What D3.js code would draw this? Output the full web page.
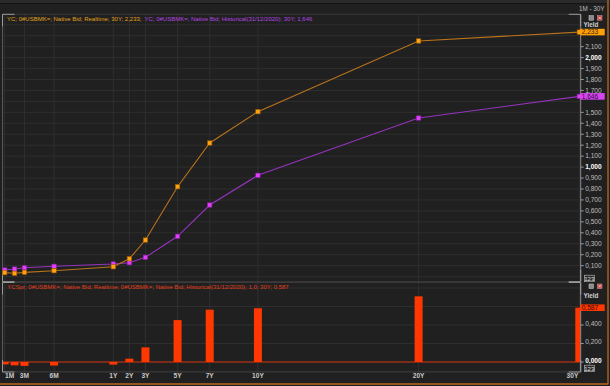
<!DOCTYPE html>
<html>
<head>
<meta charset="utf-8">
<script src="https://cdn.jsdelivr.net/npm/d3@7"></script>
<style>
html,body{margin:0;padding:0;background:#202020;}
svg{display:block;font-family:"Liberation Sans",Arial,sans-serif;}
</style>
</head>
<body>
<svg id="c" width="610" height="386"></svg>
<script>
// ---- data ----
const tenors = ["1M","2M","3M","6M","1Y","2Y","3Y","5Y","7Y","10Y","20Y","30Y"];
const tenorMonths = [1,2,3,6,12,24,36,60,84,120,240,360];
const labeledTenors = ["1M","3M","6M","1Y","2Y","3Y","5Y","7Y","10Y","20Y","30Y"];
const realtime = [0.036,0.030,0.039,0.054,0.090,0.163,0.334,0.821,1.220,1.506,2.152,2.233];
const historical = [0.060,0.069,0.081,0.094,0.115,0.127,0.176,0.368,0.654,0.925,1.448,1.646];
const spread = [-0.026,-0.036,-0.042,-0.038,-0.028,0.036,0.158,0.453,0.566,0.581,0.710,0.587];
const topTicks = [0.1,0.2,0.3,0.4,0.5,0.6,0.7,0.8,0.9,1.0,1.1,1.2,1.3,1.4,1.5,1.7,1.8,1.9,2.0,2.1];
const topGrid = d3.range(0,24).map(i=>i/10);
const botTicks = [0,0.2,0.4];
const botGrid = [-0.1,0,0.2,0.4,0.6,0.8];
const legendTop1 = "YC; 0#USBMK=; Native Bid; Realtime; 30Y; 2,233;";
const legendTop2 = "YC; 0#USBMK=; Native Bid; Historical(31/12/2020); 30Y; 1,646";
const legendBot = "YCSpr; 0#USBMK=; Native Bid; Realtime; 0#USBMK=; Native Bid; Historical(31/12/2020); 1,0; 30Y; 0,587";

const fmt = v => d3.format(".3f")(v).replace(".", ",");
const fmtTick = v => d3.format(",.3f")(v).replace(".", ",");

// ---- layout ----
const L = 2.5, R = 580.7;
const T1 = 14.3, B1 = 281.7;
const T2 = 282.5, B2 = 372;

const svg = d3.select("#c");
const x = d3.scaleLinear().domain([1,12,360]).range([4.7,113.3,579.3]);
const yT = d3.scaleLinear().domain([0,2.1]).range([276.6,46.65]);
const yB = d3.scaleLinear().domain([0,0.4]).range([362,325]);
const mIdx = t => tenorMonths[tenors.indexOf(t)];

// background
svg.append("rect").attr("width",610).attr("height",386).attr("fill","#202020");
svg.append("rect").attr("x",0).attr("y",0).attr("width",610).attr("height",3).attr("fill","#2a2a2a");
svg.append("line").attr("x1",0).attr("x2",606).attr("y1",3.5).attr("y2",3.5).attr("stroke","#141414");

const defs = svg.append("defs");
defs.append("clipPath").attr("id","cp1").append("rect").attr("x",L).attr("y",T1).attr("width",R-L).attr("height",B1-T1);
defs.append("clipPath").attr("id","cp2").append("rect").attr("x",L).attr("y",T2).attr("width",R-L).attr("height",B2-T2);

// ---- grids ----
const g1 = svg.append("g").attr("clip-path","url(#cp1)");
g1.selectAll(".hg").data(topGrid).join("line")
  .attr("x1",L).attr("x2",R).attr("y1",d=>yT(d)).attr("y2",d=>yT(d))
  .attr("stroke","#2e2e2e").attr("stroke-width",1);
g1.selectAll(".vg").data(labeledTenors).join("line")
  .attr("x1",d=>x(mIdx(d))).attr("x2",d=>x(mIdx(d))).attr("y1",T1).attr("y2",B1)
  .attr("stroke","#2e2e2e").attr("stroke-width",1);

const g2 = svg.append("g").attr("clip-path","url(#cp2)");
g2.selectAll(".hg").data(botGrid).join("line")
  .attr("x1",L).attr("x2",R).attr("y1",d=>yB(d)).attr("y2",d=>yB(d))
  .attr("stroke","#2e2e2e");
g2.selectAll(".vg").data(labeledTenors).join("line")
  .attr("x1",d=>x(mIdx(d))).attr("x2",d=>x(mIdx(d))).attr("y1",T2).attr("y2",B2)
  .attr("stroke","#303030");

// frames
function frame(t,b){
  svg.append("line").attr("x1",L).attr("x2",L).attr("y1",t).attr("y2",b).attr("stroke","#5a5a5a");
  svg.append("line").attr("x1",R).attr("x2",R).attr("y1",t).attr("y2",b).attr("stroke","#8c8c8c");
  svg.append("line").attr("x1",L).attr("x2",R).attr("y1",t).attr("y2",t).attr("stroke","#3a3a3a");
  svg.append("line").attr("x1",L).attr("x2",R).attr("y1",b).attr("y2",b).attr("stroke","#3a3a3a");
  [[L,t,1,1],[R,t,-1,1],[L,b,1,-1],[R,b,-1,-1]].forEach(([cx,cy,dx,dy])=>{
    svg.append("path").attr("d",`M${cx+dx*12},${cy}H${cx}V${cy+dy*12}`).attr("fill","none").attr("stroke","#9a9a9a");
  });
}
frame(T1,B1);
frame(T2,B2);

// ---- lines & markers ----
const lineGen = arr => d3.line().x((d,i)=>x(tenorMonths[i])).y(d=>yT(d))(arr);
g1.append("path").attr("d",lineGen(historical)).attr("fill","none").attr("stroke","#9433bd").attr("stroke-width",1.1);
g1.append("path").attr("d",lineGen(realtime)).attr("fill","none").attr("stroke","#b8731c").attr("stroke-width",1.1);

function markers(arr, fill, stroke){
  svg.append("g").selectAll("rect").data(arr).join("rect")
    .attr("x",(d,i)=>x(tenorMonths[i])-2.2).attr("y",d=>yT(d)-2.2)
    .attr("width",4.4).attr("height",4.4)
    .attr("fill",fill).attr("stroke",stroke).attr("stroke-width",0.6);
}
markers(historical,"#e040f8","#8a1fa8");
markers(realtime,"#ffa30f","#9a5a08");

// ---- bars ----
g2.append("line").attr("x1",L).attr("x2",R).attr("y1",yB(0)).attr("y2",yB(0)).attr("stroke","#d0300a").attr("stroke-width",1);
g2.selectAll(".bar").data(spread).join("rect")
  .attr("x",(d,i)=>x(tenorMonths[i])-4).attr("width",8)
  .attr("y",d=>Math.min(yB(d),yB(0))).attr("height",d=>Math.abs(yB(d)-yB(0)))
  .attr("fill","#ff3700");

// ---- right axes ----
const isMajor = d => Math.abs(d-1)<1e-9 || Math.abs(d-2)<1e-9;
const ax1 = svg.append("g");
ax1.selectAll("line").data(topTicks).join("line")
  .attr("x1",R).attr("x2",R+3).attr("y1",d=>yT(d)).attr("y2",d=>yT(d)).attr("stroke","#9a9a9a");
ax1.selectAll("text").data(topTicks).join("text")
  .attr("x",R+4.5).attr("y",d=>yT(d)).attr("dy","0.35em")
  .attr("font-size",6.6)
  .attr("font-weight",d=>isMajor(d)?"bold":"normal")
  .attr("fill",d=>isMajor(d)?"#ffffff":"#bdbdbd")
  .text(d=>fmtTick(d));

const ax2 = svg.append("g");
ax2.selectAll("line").data(botTicks).join("line")
  .attr("x1",R).attr("x2",R+3).attr("y1",d=>yB(d)).attr("y2",d=>yB(d)).attr("stroke","#9a9a9a");
ax2.selectAll("text").data(botTicks).join("text")
  .attr("x",R+4.5).attr("y",d=>yB(d)-1.5).attr("dy","0.35em")
  .attr("font-size",6.6)
  .attr("font-weight",d=>d===0?"bold":"normal")
  .attr("fill",d=>d===0?"#ffffff":"#bdbdbd")
  .text(d=>fmtTick(d));

// value boxes
function valBox(yv, val, bg, fg){
  svg.append("rect").attr("x",R-0.5).attr("y",yv-3.3).attr("width",24.5).attr("height",6.6).attr("fill",bg);
  svg.append("text").attr("x",R+1).attr("y",yv).attr("dy","0.35em").attr("font-size",6.6).attr("fill",fg).text(fmt(val));
}
valBox(yT(realtime[realtime.length-1]), realtime[realtime.length-1], "#ff9f0a", "#3a2400");
valBox(yT(historical[historical.length-1]), historical[historical.length-1], "#d646f0", "#3a0848");
valBox(yB(spread[spread.length-1]), spread[spread.length-1], "#ff3700", "#3a0a00");

// "Yield" labels, icons, 123 boxes
[25.2, 295.7].forEach(yy=>{
  svg.append("text").attr("x",591).attr("y",yy).attr("dy","0.35em").attr("text-anchor","middle")
    .attr("font-size",6.4).attr("font-weight","bold").attr("fill","#cfcfcf").text("Yield");
});
[15.7, 284].forEach(yy=>{
  svg.append("rect").attr("x",589).attr("y",yy).attr("width",4.5).attr("height",4.5).attr("fill","#8a8a8a").attr("stroke","#cfcfcf").attr("stroke-width",0.5);
  svg.append("rect").attr("x",597.5).attr("y",yy).attr("width",4.5).attr("height",4.5).attr("fill","#c84040").attr("stroke","#e0a0a0").attr("stroke-width",0.5);
  svg.append("path").attr("d",`M598.5,${yy+1}L601,${yy+3.5}M601,${yy+1}L598.5,${yy+3.5}`).attr("stroke","#fff").attr("stroke-width",0.6);
});
[275.2, 365.2].forEach(yy=>{
  svg.append("rect").attr("x",584.3).attr("y",yy).attr("width",10).attr("height",6.5).attr("fill","#2a2a2a").attr("stroke","#bfbfbf").attr("stroke-width",0.6);
  svg.append("text").attr("x",589.3).attr("y",yy+3.3).attr("dy","0.35em").attr("text-anchor","middle")
    .attr("font-size",6).attr("fill","#e0e0e0").text("123");
});

// top right range label
svg.append("text").attr("x",604.5).attr("y",8.3).attr("dy","0.35em").attr("text-anchor","end")
  .attr("font-size",6.3).attr("fill","#bdbdbd").text("1M - 30Y");

// legends
const lt1 = svg.append("text").attr("x",7).attr("y",19).attr("dy","0.35em").attr("font-size",6)
  .attr("fill","#e0a21c").text(legendTop1);
const w1 = lt1.node().getComputedTextLength();
svg.append("text").attr("x",7 + w1 + 3).attr("y",19).attr("dy","0.35em").attr("font-size",6)
  .attr("fill","#b645e0").text(legendTop2);
svg.append("text").attr("x",7.3).attr("y",287).attr("dy","0.35em").attr("font-size",6)
  .attr("fill","#e33f18").text(legendBot);

// x axis labels
svg.append("g").selectAll("text").data(labeledTenors).join("text")
  .attr("x",d=>{const p=x(mIdx(d)); return d==="1M"?p+0.3:(d==="30Y"?p-1:p);})
  .attr("text-anchor",d=>d==="1M"?"start":(d==="30Y"?"end":"middle"))
  .attr("y",375.5).attr("dy","0.35em")
  .attr("font-size",6.6).attr("font-weight","bold").attr("fill","#c8c8c8")
  .text(d=>d);

// outer orange border
svg.append("line").attr("x1",608).attr("x2",608).attr("y1",0).attr("y2",384.5).attr("stroke","#b8691e").attr("stroke-width",1.3);
svg.append("line").attr("x1",0).attr("x2",608).attr("y1",384).attr("y2",384).attr("stroke","#b8691e").attr("stroke-width",1.3);
</script>
</body>
</html>
